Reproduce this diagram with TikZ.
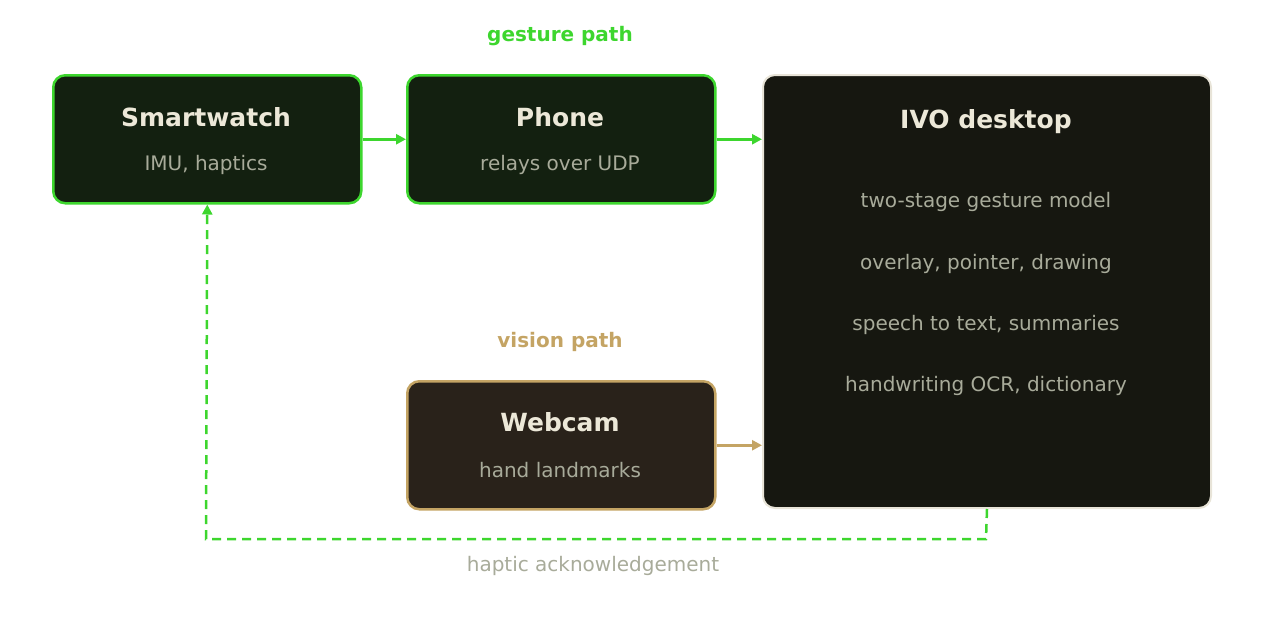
\documentclass[tikz,border=0pt]{standalone}
\usepackage{fontspec}
\setmainfont{DejaVu Sans}
\usetikzlibrary{arrows.meta,positioning}
\definecolor{gGreen}{HTML}{3DD62E}
\definecolor{gFill}{HTML}{132010}
\definecolor{ivoFill}{HTML}{161710}
\definecolor{ivoLine}{HTML}{E8E4D8}
\definecolor{vGold}{HTML}{C4A464}
\definecolor{vFill}{HTML}{29221A}
\definecolor{titleCol}{HTML}{ECE8D8}
\definecolor{subCol}{HTML}{A8AB9A}
\tikzset{
  box/.style={rounded corners=12pt,line width=2.5pt,inner sep=0pt,anchor=north west},
  gbox/.style={box,draw=gGreen,fill=gFill,minimum width=308pt,minimum height=128pt},
  title/.style={text=titleCol,font=\fontsize{25}{25}\selectfont\bfseries},
  sub/.style={text=subCol,font=\fontsize{20}{20}\selectfont},
  flow/.style={line width=2.5pt,-{Triangle[length=10pt,width=10pt]}}
}
\begin{document}
\begin{tikzpicture}[x=1pt,y=-1pt]
	\useasboundingbox (0,0) rectangle (1263,640);

	% boxes
	\node[gbox] (watch) at (52,74) {};
	\node[gbox] (phone) at (406,74) {};
	\node[box,draw=vGold,fill=vFill,minimum width=308pt,minimum height=128pt] (webcam) at (406,380) {};
	\node[box,draw=ivoLine,line width=2pt,fill=ivoFill,minimum width=448pt,minimum height=433pt] (ivo) at (762,74) {};

	% texts
	\node[title] (watchT) at (206,117) {Smartwatch};
	\node[sub] (watchS) at (206,165) {IMU, haptics};
	\node[title] (phoneT) at (560,117) {Phone};
	\node[sub] (phoneS) at (560,165) {relays over UDP};
	\node[title] (webcamT) at (560,422) {Webcam};
	\node[sub] (webcamS) at (560,470) {hand landmarks};
	\node[title] (ivoT) at (986,122) {IVO desktop};
	\foreach \t [count=\i] in {two-stage gesture model,{overlay, pointer, drawing},{speech to text, summaries},{handwriting OCR, dictionary}}
		\node[sub] (ivoL\i) at (986,141+61.3*\i) {\t};

	\node[text=gGreen,font=\fontsize{20}{20}\selectfont\bfseries] (gpath) at (560,36) {gesture path};
	\node[text=vGold,font=\fontsize{20}{20}\selectfont\bfseries] (vpath) at (560,342) {vision path};
	\node[text=subCol,font=\fontsize{20}{20}\selectfont] (hack) at (593,566) {haptic acknowledgement};

	% arrows
	\draw[flow,gGreen] (watch.east) -- (phone.west);
	\draw[flow,gGreen] (phone.east) -- (phone.east -| ivo.west);
	\draw[flow,vGold] (webcam.east) -- (webcam.east -| ivo.west);
	\coordinate (fbR) at (986,539);
	\coordinate (fbL) at (206,539);
	\draw[flow,gGreen,dash pattern=on 9pt off 6pt] (ivo.south) -- (fbR) -- (fbL) -- (watch.south);
\end{tikzpicture}
\end{document}
